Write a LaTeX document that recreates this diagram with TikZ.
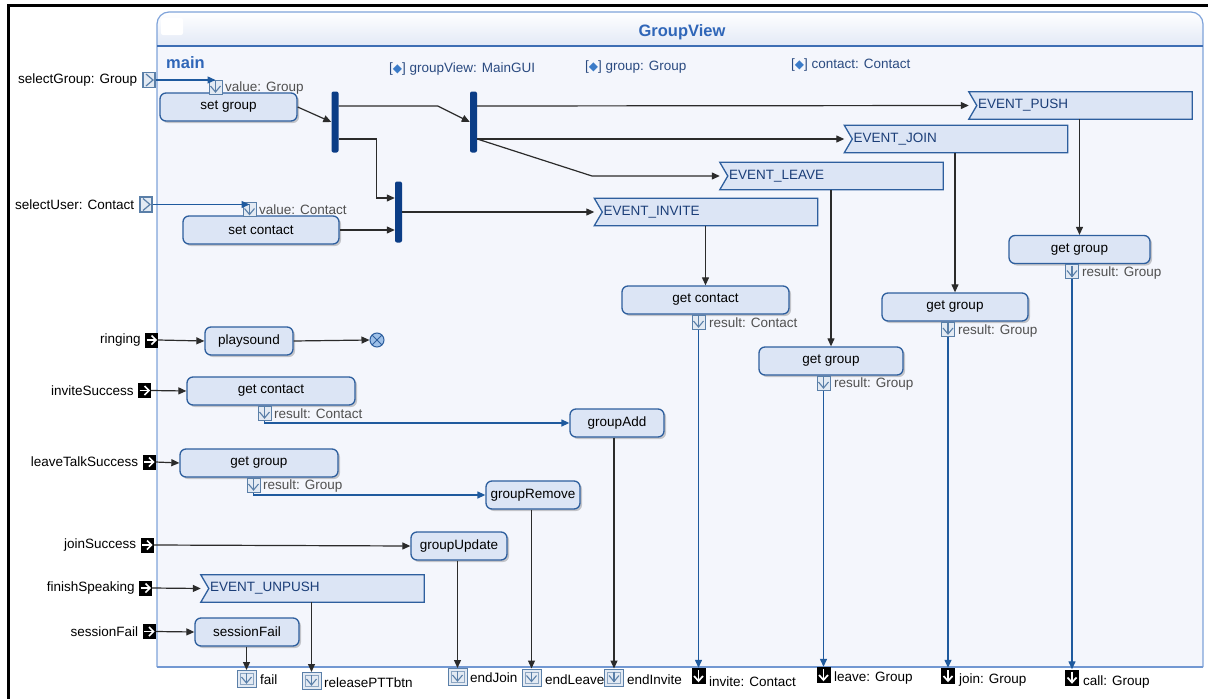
\documentclass[tikz,border=0pt]{standalone}
\usepackage{fontspec}
\setmainfont{Liberation Sans}
\newfontfamily\symfont{DejaVu Sans}
\usetikzlibrary{arrows.meta,shadows,calc}
\pgfdeclarelayer{bg}\pgfdeclarelayer{mid}\pgfsetlayers{bg,mid,main}
\definecolor{bodyc}{HTML}{F4F6FC}
\definecolor{titlebot}{HTML}{E2E9F6}
\definecolor{framec}{HTML}{7FA3DA}
\definecolor{sepc}{HTML}{3D6EB4}
\definecolor{titlec}{HTML}{2F66B8}
\definecolor{nodef}{HTML}{DCE5F5}
\definecolor{nodeb}{HTML}{2E5F9E}
\definecolor{evtext}{HTML}{1B3E78}
\definecolor{forkc}{HTML}{0B3D86}
\definecolor{ctlc}{HTML}{2B2B2B}
\definecolor{objc}{HTML}{1F5A9E}
\definecolor{pinc}{HTML}{5A7FA8}
\definecolor{pinf}{HTML}{E3EAF3}
\definecolor{lblc}{HTML}{505050}
\definecolor{propc}{HTML}{2A4A80}
\definecolor{diamc}{HTML}{3B7BC8}
\definecolor{ffill}{HTML}{9EC0E8}
\newcommand{\pbox}{{\color{propc}[}{\symfont\fontsize{12}{12}\selectfont\color{diamc}◆}{\color{propc}]}}
\tikzset{
  act/.style={draw=nodeb, fill=nodef, rounded corners=6pt, line width=1.3pt, minimum height=28pt, inner sep=0pt,
    drop shadow={shadow xshift=2pt,shadow yshift=-2pt,fill=black,opacity=0.2}},
  ev/.style={minimum height=27pt, text width=205pt, inner xsep=9pt, inner ysep=0pt, align=left, text=evtext},
  fork/.style={fill=forkc, rounded corners=2pt, minimum width=7pt, minimum height=61pt, inner sep=0pt},
  ctl/.style={draw=ctlc, line width=1.2pt, -{Triangle[length=8pt,width=7pt]}},
  obj/.style={draw=objc, line width=1.3pt, -{Triangle[length=8pt,width=7pt]}},
  ipin/.style={draw=pinc, fill=pinf, line width=1pt, minimum width=13pt, minimum height=14pt, inner sep=0pt,
    path picture={
      \draw[pinc,line width=1.1pt] ([yshift=6pt]path picture bounding box.center) -- ([yshift=-5pt]path picture bounding box.center);
      \draw[pinc,line width=1.1pt] ([xshift=-5pt,yshift=1pt]path picture bounding box.center) -- ([yshift=-5pt]path picture bounding box.center) -- ([xshift=5pt,yshift=1pt]path picture bounding box.center);}},
  hin/.style={draw=pinc, fill=pinf, line width=1.2pt, minimum width=12pt, minimum height=15pt, inner sep=0pt,
    path picture={
      \draw[pinc,line width=1.2pt] ([xshift=-3pt,yshift=6pt]path picture bounding box.center) -- ([xshift=4pt]path picture bounding box.center) -- ([xshift=-3pt,yshift=-6pt]path picture bounding box.center);}},
  bin/.style={fill=black, minimum width=13pt, minimum height=15pt, inner sep=0pt,
    path picture={
      \draw[white,line width=1.7pt] ([xshift=-5pt]path picture bounding box.center) -- ([xshift=4pt]path picture bounding box.center);
      \draw[white,line width=1.7pt] ([yshift=4.5pt]path picture bounding box.center) -- ([xshift=4.5pt]path picture bounding box.center) -- ([yshift=-4.5pt]path picture bounding box.center);}},
  hout/.style={draw=pinc, fill=pinf, line width=1pt, minimum width=19pt, minimum height=17pt, inner sep=0pt,
    path picture={
      \draw[pinc!70, line width=.8pt] ([xshift=-6.5pt,yshift=5.5pt]path picture bounding box.center) rectangle ([xshift=6.5pt,yshift=-5.5pt]path picture bounding box.center);
      \draw[pinc,line width=1.1pt] ([yshift=6pt]path picture bounding box.center) -- ([yshift=-4pt]path picture bounding box.center);
      \draw[pinc,line width=1.1pt] ([xshift=-5pt,yshift=2pt]path picture bounding box.center) -- ([yshift=-4pt]path picture bounding box.center) -- ([xshift=5pt,yshift=2pt]path picture bounding box.center);}},
  bout/.style={fill=black, minimum width=14pt, minimum height=16pt, inner sep=0pt,
    path picture={
      \draw[white,line width=1.7pt] ([yshift=6pt]path picture bounding box.center) -- ([yshift=-5pt]path picture bounding box.center);
      \draw[white,line width=1.7pt] ([xshift=-4.5pt,yshift=0pt]path picture bounding box.center) -- ([yshift=-5pt]path picture bounding box.center) -- ([xshift=4.5pt,yshift=0pt]path picture bounding box.center);}},
  ffin/.style={circle, draw=nodeb, fill=ffill, line width=1pt, minimum size=14pt, inner sep=0pt,
    path picture={
      \draw[nodeb,line width=1pt] ([xshift=-5pt,yshift=-5pt]path picture bounding box.center) -- ([xshift=5pt,yshift=5pt]path picture bounding box.center);
      \draw[nodeb,line width=1pt] ([xshift=-5pt,yshift=5pt]path picture bounding box.center) -- ([xshift=5pt,yshift=-5pt]path picture bounding box.center);}},
  lbl/.style={text=lblc, inner sep=0pt, anchor=west},
  blbl/.style={text=black, inner sep=0pt, anchor=west},
  inlbl/.style={text=black, inner sep=0pt, anchor=east},
  prop/.style={text=propc, inner sep=0pt, anchor=west}
}
\newcommand{\evshape}[1]{%
  \fill[black,opacity=0.2,xshift=2pt,yshift=-2pt] (#1.north west) -- (#1.north east) -- (#1.south east) -- (#1.south west) -- ([xshift=8pt]#1.west) -- cycle;
  \filldraw[draw=nodeb, fill=nodef, line width=1.3pt] (#1.north west) -- (#1.north east) -- (#1.south east) -- (#1.south west) -- ([xshift=8pt]#1.west) -- cycle;}
\begin{document}
\begin{tikzpicture}[x=1pt,y=-1pt,font=\fontsize{13.5}{15}\selectfont]
\useasboundingbox (0,0) rectangle (1208,699);
\begin{pgfonlayer}{bg}
\fill[white] (0,0) rectangle (1208,699);
\draw[black, line width=3pt] (8,700) -- (8,5) -- (1209,5);
\fill[bodyc] (157,46) rectangle (1203,667);
\shade[top color=white, bottom color=titlebot] [rounded corners=12pt] (157,46) -- (157,12) -- (1203,12) [sharp corners] -- (1203,46) -- cycle;
\fill[white, rounded corners=2pt] (161,18) rectangle (183,35);
\draw[framec, line width=1.2pt] [rounded corners=12pt] (157,667) -- (157,12) -- (1203,12) [sharp corners] -- (1203,667);
\draw[sepc, line width=1.6pt] (157,46) -- (1203,46);
\draw[framec!80!sepc, line width=1.4pt] (157,667) -- (1203,667);
\end{pgfonlayer}

% titles and properties
\node[font=\bfseries\fontsize{16.5}{18}\selectfont, text=titlec] (title) at (682,32) {GroupView};
\node[font=\bfseries\fontsize{16.5}{18}\selectfont, text=titlec, anchor=west, inner sep=0pt] (mainlbl) at (166,63) {main};
\node[prop] (p1) at (389,69) {\pbox\ groupView: MainGUI};
\node[prop] (p2) at (585,67) {\pbox\ group: Group};
\node[prop] (p3) at (791,65) {\pbox\ contact: Contact};

% left inputs
\node[hin] (iSG) at (149,80) {};
\node[hin] (iSU) at (146,204.5) {};
\node[bin] (iR) at (151.5,340) {};
\node[bin] (iIS) at (144.5,390.5) {};
\node[bin] (iLT) at (149,462) {};
\node[bin] (iJS) at (147,545) {};
\node[bin] (iFS) at (145.5,588) {};
\node[bin] (iSF) at (149,631.5) {};
\node[inlbl] (tSG) at ([xshift=-5pt]iSG.west) {selectGroup: Group};
\node[inlbl] (tSU) at ([xshift=-5pt]iSU.west) {selectUser: Contact};
\node[inlbl] (tR) at ([xshift=-4pt]iR.west) {ringing};
\node[inlbl] (tIS) at ([xshift=-4pt]iIS.west) {inviteSuccess};
\node[inlbl] (tLT) at ([xshift=-4pt]iLT.west) {leaveTalkSuccess};
\node[inlbl] (tJS) at ([xshift=-4pt]iJS.west) {joinSuccess};
\node[inlbl] (tFS) at ([xshift=-4pt]iFS.west) {finishSpeaking};
\node[inlbl] (tSF) at ([xshift=-4pt]iSF.west) {sessionFail};

% actions
\node[act, minimum width=137pt] (sg) at (228.5,107) {set group};
\node[act, minimum width=156pt] (sc) at (261,230) {set contact};
\node[act, minimum width=88pt] (ps) at (249,341) {playsound};
\node[act, minimum width=168pt] (gc1) at (271,391) {get contact};
\node[act, minimum width=158pt] (gg1) at (259,463) {get group};
\node[act, minimum width=94pt] (gadd) at (617,423) {groupAdd};
\node[act, minimum width=94pt] (grem) at (533,495) {groupRemove};
\node[act, minimum width=96pt] (gupd) at (459,546) {groupUpdate};
\node[act, minimum width=104pt] (sf) at (247,632) {sessionFail};
\node[act, minimum width=167pt] (gc2) at (705.5,300) {get contact};
\node[act, minimum width=144pt] (gg2) at (831,361) {get group};
\node[act, minimum width=146pt] (gg3) at (955,307) {get group};
\node[act, minimum width=141pt] (gg4) at (1079.5,249.5) {get group};
\node[ffin] (ff) at (377,340) {};

% events
\node[ev] (ep) at (1080.5,105.5) {EVENT\_PUSH};
\node[ev] (ej) at (956,139) {EVENT\_JOIN};
\node[ev] (el) at (831.5,176) {EVENT\_LEAVE};
\node[ev] (ei) at (706,212) {EVENT\_INVITE};
\node[ev] (eu) at (312.5,588.5) {EVENT\_UNPUSH};
\begin{pgfonlayer}{mid}
\evshape{ep}\evshape{ej}\evshape{el}\evshape{ei}\evshape{eu}
\end{pgfonlayer}

% forks
\node[fork] (b1) at (335,122) {};
\node[fork] (b2) at (398.5,212) {};
\node[fork] (b3) at (473.5,122) {};

% pins on actions
\node[ipin] (pV1) at (215.5,87) {};
\node[lbl] (tV1) at (225,88) {value: Group};
\node[ipin] (pV2) at (249.5,209.5) {};
\node[lbl] (tV2) at (259,210) {value: Contact};
\node[ipin] (pR1) at (264.5,413) {};
\node[lbl] (tR1) at (274,414) {result: Contact};
\node[ipin] (pR2) at (253.5,485) {};
\node[lbl] (tR2) at (263,486) {result: Group};
\node[ipin] (pR3) at (698.5,322) {};
\node[lbl] (tR3) at (709,323) {result: Contact};
\node[ipin] (pR4) at (823.5,383) {};
\node[lbl] (tR4) at (834,384) {result: Group};
\node[ipin] (pR5) at (948,329) {};
\node[lbl] (tR5) at (958,331) {result: Group};
\node[ipin] (pR6) at (1072,271.5) {};
\node[lbl] (tR6) at (1082,273) {result: Group};

% bottom outputs
\node[hout] (oFail) at (246.5,679) {};
\node[blbl] (tFail) at (260,680) {fail};
\node[hout] (oRel) at (311.5,681) {};
\node[blbl] (tRel) at (324,683) {releasePTTbtn};
\node[hout] (oEJ) at (457.5,677) {};
\node[blbl] (tEJ) at (470,678) {endJoin};
\node[hout] (oEL) at (531.5,677.5) {};
\node[blbl] (tEL) at (545,680) {endLeave};
\node[hout] (oEI) at (614,677.5) {};
\node[blbl] (tEI) at (627,680) {endInvite};
\node[bout] (oInv) at (698.5,676) {};
\node[blbl] (tInv) at (709,682) {invite: Contact};
\node[bout] (oLv) at (823.5,675) {};
\node[blbl] (tLv) at (834,678) {leave: Group};
\node[bout] (oJn) at (948,676) {};
\node[blbl] (tJn) at (959,680) {join: Group};
\node[bout] (oCl) at (1072,677.5) {};
\node[blbl] (tCl) at (1083,682) {call: Group};

% object flows
\draw[obj] (iSG.east) -- (iSG.east -| pV1.north);
\draw[obj] (iSU.east) -- (iSU.east -| pV2.north);
\draw[obj] (pR1.south) |- (gadd.west);
\draw[obj] (pR2.south) |- (grem.west);
\draw[obj] (pR3.south) -- (oInv.north);
\draw[obj] (pR4.south) -- (oLv.north);
\draw[obj] (pR5.south) -- (oJn.north);
\draw[obj] (pR6.south) -- (oCl.north);

% control flows
\draw[ctl] (sg.east) -- (b1.west);
\draw[ctl] ([yshift=16pt]b1.east) -- ++(99,0) -- (b3.west);
\draw[ctl] ([yshift=-17pt]b1.east) -- ++(38,0) |- ([yshift=14pt]b2.west);
\draw[ctl] (sc.east) -- (sc.east -| b2.west);
\draw[ctl] (b2.east) -- (ei.west);
\draw[ctl] ([yshift=16pt]b3.east) -- (ep.west);
\draw[ctl] ([yshift=-17pt]b3.east) -- (ej.west);
\draw[ctl] ([yshift=-17pt]b3.east) -- (592,176) -- (el.west);
\draw[ctl] (gc2.north |- ei.south) -- (gc2.north);
\draw[ctl] (gg2.north |- el.south) -- (gg2.north);
\draw[ctl] (gg3.north |- ej.south) -- (gg3.north);
\draw[ctl] (gg4.north |- ep.south) -- (gg4.north);
\draw[ctl] (iR.east) -- (ps.west);
\draw[ctl] (ps.east) -- (ff.west);
\draw[ctl] (iIS.east) -- (gc1.west);
\draw[ctl] (iLT.east) -- (gg1.west);
\draw[ctl] (iJS.east) -- (gupd.west);
\draw[ctl] (iFS.east) -- (eu.west);
\draw[ctl] (iSF.east) -- (sf.west);
\draw[ctl] (oFail.north |- sf.south) -- (oFail.north);
\draw[ctl] (oRel.north |- eu.south) -- (oRel.north);
\draw[ctl] (oEJ.north |- gupd.south) -- (oEJ.north);
\draw[ctl] (oEL.north |- grem.south) -- (oEL.north);
\draw[ctl] (oEI.north |- gadd.south) -- (oEI.north);
\end{tikzpicture}
\end{document}
